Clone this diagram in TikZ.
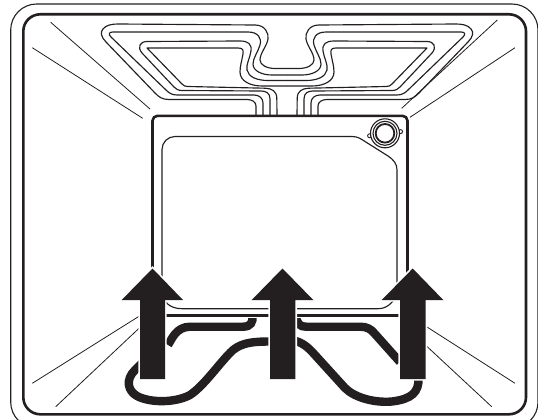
\documentclass[tikz,border=0pt]{standalone}
\definecolor{ink}{HTML}{231F20}
\tikzset{
  ray/.style={draw=ink,line width=0.8pt},
  coil/.style={draw=ink,line width=1.15pt,line join=round},
  frameouter/.style={draw=ink,line width=1.1pt,rounded corners=26pt},
  frameinner/.style={draw=ink,line width=2.6pt,rounded corners=17pt},
  doorouter/.style={draw=ink,line width=2.6pt},
  doorinner/.style={draw=ink,line width=1.15pt},
  band/.style={draw=ink,line width=8.4pt,line cap=butt},
}
\newcommand{\coilhalf}{%
  % innermost loop
  \draw[coil] (277,116) -- (276.8,98) .. controls (276.5,91) and (272,88.5) .. (265,88.2)
     -- (188,86.5) .. controls (185,86.4) and (184,86) .. (182,84) -- (147,48) -- (238,48)
     .. controls (243,48) and (243.5,50) .. (243,54)
     .. controls (242,60) and (240,66) .. (240,72)
     .. controls (240,81) and (250,86) .. (262,86) -- (287,86);
  % second
  \draw[coil] (270,116) -- (270,99) .. controls (270,93) and (266,91) .. (261,91)
     -- (182,90.5) .. controls (178,90.5) and (176,89) .. (174,87) -- (142,53)
     .. controls (137,47) and (140,41.5) .. (147,41.5) -- (240,41)
     .. controls (248,41) and (252,44) .. (251,51)
     .. controls (250,58) and (246,64) .. (247,70)
     .. controls (248.5,77) and (257,80.5) .. (268,80.5) -- (287,80.5);
  % third
  \draw[coil] (263,116) -- (263,103) .. controls (263,98) and (259,95) .. (254,95)
     -- (177,95) .. controls (172,95) and (169,93) .. (166,90) -- (111,37)
     .. controls (108,34) and (109,32) .. (113,32) -- (248,32)
     .. controls (258,32) and (262,38) .. (260,45)
     .. controls (258,52) and (253,58) .. (253,64)
     .. controls (253,71) and (262,75) .. (272,75) -- (287,75);
  % fourth
  \draw[coil] (256,116) -- (256,106) .. controls (256,102) and (252,99.5) .. (247,99.5)
     -- (169,99.5) .. controls (162,99.5) and (159,97) .. (155,93) -- (106,42)
     .. controls (101,37) and (100,32) .. (103,29)
     .. controls (106,25) and (112,24) .. (118,24) -- (255,25)
     .. controls (265,25) and (269,33) .. (268,39)
     .. controls (267,46) and (260,53) .. (260,60)
     .. controls (260,65) and (267,68.5) .. (275,68.5) -- (287,68.5);
}
\begin{document}
\begin{tikzpicture}[x=1pt,y=-1pt]
\useasboundingbox (0,0) rectangle (538,420);
\clip (0,0) rectangle (538,420);
% frames
\draw[frameouter] (10.7,4) rectangle (538,428);
\draw[frameinner] (23.3,14.3) rectangle (526,414.3);
% rays
\draw[ray] (50.7,22.3) -- (150,109);
\draw[ray] (32.3,47.7) -- (142.7,118.3);
\draw[ray] (497.3,20) -- (401.7,108.3);
\draw[ray] (515,47.7) -- (410,117.3);
\draw[ray] (32.3,383.3) -- (139,316.3);
\draw[ray] (55.7,406.7) -- (139,328.3);
\draw[ray] (515,383.3) -- (427,327);
\draw[ray] (491.7,406.7) -- (427,346.5);
% upper heating coil
\coilhalf
\begin{scope}[xshift=574pt,xscale=-1]
\coilhalf
\end{scope}
% lower heating coil (thick)
\draw[band] (168,345) .. controls (172,339) and (176,327) .. (190,326.7)
   -- (243,326.7) .. controls (251,326.7) and (253,322) .. (252.5,316);
\draw[band] (296,316) .. controls (297,324) and (300,326.7) .. (306,326.7)
   -- (360,326.7) .. controls (367,326.7) and (371,329) .. (375,334) -- (400,362);
\draw[band] (146,359) -- (135,370) .. controls (125,380) and (128,391) .. (137,396)
   .. controls (150,403) and (175,403) .. (190,395)
   .. controls (205,385) and (220,362) .. (233,350)
   .. controls (243,342) and (255,341.5) .. (272,341.5);
\draw[band] (292,340) .. controls (302,342) and (308,347) .. (315,355)
   -- (345,388) .. controls (355,398) and (375,403) .. (392,401.5)
   .. controls (412,399) and (419,392) .. (418.5,378);
% door
\draw[white,line width=5pt] (168,315.7) -- (399,315.7);
\draw[doorouter,rounded corners=5pt] (152.5,300) -- (152.5,115.8) -- (407.5,115.8) -- (407.5,300);
\draw[draw=ink,line width=2.6pt] (166,315.7) -- (402,315.7);
\draw[doorinner,rounded corners=13pt] (162,300) -- (162,136.5) -- (345,136.5);
\draw[doorinner] (345,136.5) -- (352,136.5) .. controls (358,136.5) and (361,139) .. (365,141.5) -- (388,156)
  .. controls (394,160) and (397,164) .. (397,170) -- (397,290);
\draw[doorinner] (162,290) .. controls (162,302) and (170,308.7) .. (182,308.7) -- (378,308.7)
  .. controls (386,308.7) and (392,304) .. (397,295);
% vent ring
\filldraw[draw=ink,fill=white,line width=0.9pt] (369.6,135.8) circle (2pt);
\filldraw[draw=ink,fill=white,line width=0.9pt] (400.6,131.6) circle (2pt);
\filldraw[draw=ink,fill=white,line width=1.1pt] (385,133.3) circle (14.5pt);
\draw[ink,line width=1.1pt] (385,133.3) circle (12pt);
\draw[ink,line width=1.8pt] (385,133.3) circle (9.3pt);
% arrows
\foreach \c/\hl/\hr/\sl/\sr in {152.5/121.7/183/140/165, 282.5/251.7/313.3/270/295.3, 412.7/381.7/443.3/400/425.7}{
  \draw[white,line width=3.4pt,line join=miter] (\c,268.5) -- (\hr,300) -- (\sr,300) -- (\sr,379) -- (\sl,379) -- (\sl,300) -- (\hl,300) -- cycle;
  \fill[ink] (\c,268.5) -- (\hr,300) -- (\sr,300) -- (\sr,379) -- (\sl,379) -- (\sl,300) -- (\hl,300) -- cycle;
}
\end{tikzpicture}
\end{document}
